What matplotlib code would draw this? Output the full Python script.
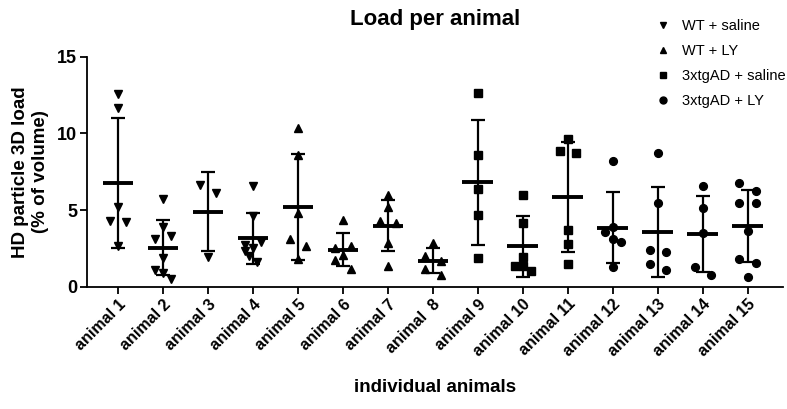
import matplotlib
matplotlib.use("Agg")
import matplotlib.pyplot as plt
from matplotlib.lines import Line2D
import numpy as np

plt.rcParams["font.family"] = ["Liberation Sans", "DejaVu Sans"]

# ─── Data ───────────────────────────────────────────────────────────────
animals = ["animal 1", "animal 2", "animal 3", "animal 4", "animal 5",
           "animal 6", "animal 7", "animal  8", "animal 9", "animal 10",
           "animal 11", "animal 12", "animal 13", "animal 14", "animal 15"]

groups = ["WT + saline", "WT + LY", "3xtgAD + saline", "3xtgAD + LY"]
animal_group = [0, 0, 0, 0, 1, 1, 1, 1, 2, 2, 2, 3, 3, 3, 3]

load_values = [
    [12.57, 11.64, 5.22, 4.29, 4.25, 2.67],
    [5.70, 3.91, 3.09, 3.31, 1.88, 1.09, 0.92, 0.48],
    [6.63, 6.13, 1.92],
    [6.60, 4.60, 2.95, 2.75, 2.50, 2.30, 2.00, 1.60],
    [10.33, 8.59, 4.83, 3.09, 2.66, 1.80],
    [4.35, 2.67, 2.55, 2.10, 1.74, 1.13],
    [5.98, 5.18, 4.31, 4.18, 2.83, 1.35],
    [2.87, 2.00, 1.70, 1.13, 0.76],
    [12.61, 8.59, 6.35, 4.68, 1.85],
    [5.98, 4.13, 1.96, 1.37, 1.37, 1.02],
    [9.61, 8.85, 8.70, 3.70, 2.79, 1.48],
    [8.20, 3.91, 3.59, 3.11, 2.94, 1.30],
    [8.74, 5.44, 2.39, 2.28, 1.48, 1.09],
    [6.57, 5.11, 3.52, 1.30, 0.76],
    [6.78, 6.26, 5.44, 5.44, 3.65, 1.79, 1.57, 0.65],
]

# horizontal scatter side of each point (-1 left, 0 centre, 1 right)
scatter_side = [
    [0, 0, 0, -1, 1, 0],
    [0, 0, -1, 1, 0, -1, 0, 1],
    [-1, 1, 0],
    [0, 0, 1, -1, 0, -1, -0.5, 0.5],
    [0, 0, 0, -1, 1, 0],
    [0, 1, -1, 0, -1, 1],
    [0, 0, -1, 1, 0, 0],
    [0, -1, 1, -1, 1],
    [0, 0, 0, 0, 0],
    [0, 0, 0, -1, 0, 1],
    [0, -1, 1, 0, 0, 0],
    [0, 0, -1, 0, 1, 0],
    [0, 0, -1, 1, -1, 1],
    [0, 0, 0, -1, 1],
    [-1, 1, -1, 1, 0, -1, 1, 0],
]

# ─── Styles ─────────────────────────────────────────────────────────────
group_marker = {0: "v", 1: "^", 2: "s", 3: "o"}
group_msize = {0: 6.0, 1: 6.0, 2: 5.3, 3: 5.6}
JITTER = 0.18
MEAN_HALF = 0.34

fig = plt.figure(figsize=(7.87, 4.09), dpi=100)
ax = fig.add_axes([0.1105, 0.299, 0.884, 0.562])

for i, vals in enumerate(load_values):
    vals = np.array(vals)
    g = animal_group[i]
    xs = i + JITTER * np.array(scatter_side[i])
    ax.plot(xs, vals, linestyle="none", marker=group_marker[g],
            markersize=group_msize[g], color="black", zorder=3)
    mean = vals.mean()
    sd = vals.std(ddof=1)
    # mean line
    ax.plot([i - MEAN_HALF, i + MEAN_HALF], [mean, mean], color="black",
            linewidth=2.8, solid_capstyle="butt", zorder=4)
    # SD whiskers
    ax.errorbar(i, mean, yerr=sd, fmt="none", ecolor="black",
                elinewidth=1.6, capsize=5, capthick=1.6, zorder=2)

ax.set_xlim(-0.69, 14.78)
ax.set_ylim(0, 15)
ax.set_yticks([0, 5, 10, 15])
ax.set_xticks(range(len(animals)))
ax.set_xticklabels(animals, rotation=45, ha="right", rotation_mode="anchor",
                   fontsize=11.5, fontweight="bold")
for lbl in ax.get_yticklabels():
    lbl.set_fontweight("bold")
    lbl.set_fontsize(13)

ax.spines["top"].set_visible(False)
ax.spines["right"].set_visible(False)
for s in ["left", "bottom"]:
    ax.spines[s].set_linewidth(1.3)
ax.tick_params(axis="both", length=5, width=1.3, pad=2)

ax.set_ylabel("HD particle 3D load\n(% of volume)", fontsize=13.5,
              fontweight="bold", labelpad=6, linespacing=1.2)
ax.set_xlabel("individual animals", fontsize=13.5, fontweight="bold",
              labelpad=14)
fig.text(0.553, 0.953, "Load per animal", ha="center", va="center",
         fontsize=16, fontweight="bold")

handles = [Line2D([], [], linestyle="none", marker=group_marker[k],
                  markersize=5, color="black") for k in range(4)]
fig.legend(handles, groups, loc="upper left",
           bbox_to_anchor=(0.822, 0.975), frameon=False, fontsize=10.5,
           handlelength=1.0, handletextpad=0.8, labelspacing=0.75,
           borderaxespad=0.2)

fig.savefig("out.png", dpi=100)
